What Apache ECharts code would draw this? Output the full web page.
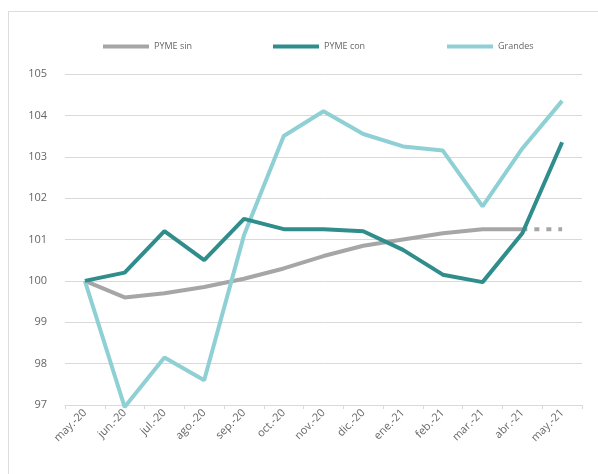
<!DOCTYPE html>
<html><head><meta charset="utf-8">
<script src="https://cdn.jsdelivr.net/npm/echarts@6/dist/echarts.min.js"></script>
<style>html,body{margin:0;padding:0;background:#fff;overflow:hidden}#c{width:598px;height:474px;}#b{position:absolute;left:8px;top:11px;width:600px;height:480px;border:1px solid #dcdcdc;box-sizing:border-box;}</style>
</head><body><div id="b"></div><div id="c" style="position:absolute;left:0;top:0"></div>
<script>
const categories = ['may.-20','jun.-20','jul.-20','ago.-20','sep.-20','oct.-20','nov.-20','dic.-20','ene.-21','feb.-21','mar.-21','abr.-21','may.-21'];
const pymeSin = [100, 99.6, 99.7, 99.85, 100.05, 100.3, 100.6, 100.85, 101.0, 101.15, 101.25, 101.25, null];
const pymeSinProj = [null, null, null, null, null, null, null, null, null, null, null, 101.25, 101.25];
const pymeCon = [100, 100.2, 101.2, 100.5, 101.5, 101.25, 101.25, 101.2, 100.75, 100.15, 99.97, 101.15, 103.35];
const grandes = [100, 96.95, 98.15, 97.6, 101.1, 103.5, 104.1, 103.55, 103.25, 103.15, 101.8, 103.2, 104.35];
const yTicks = {min: 97, max: 105, interval: 1};

const cSin = '#a6a6a6', cCon = '#2f8d8c', cGr = '#8fd0d5';
const chart = echarts.init(document.getElementById('c'));
const legendBase = {top: 37, itemWidth: 46, itemHeight: 4, icon: 'rect', itemGap: 3,
  textStyle: {color: '#666', fontSize: 9, fontFamily: 'Open Sans'}};
chart.setOption({
  animation: false,
  legend: [
    Object.assign({}, legendBase, {left: 98, data: ['PYME sin']}),
    Object.assign({}, legendBase, {left: 268, data: ['PYME con']}),
    Object.assign({}, legendBase, {left: 442, data: ['Grandes']})
  ],
  grid: {left: 65, right: 16, top: 74, bottom: 69},
  xAxis: {type: 'category', data: categories, boundaryGap: true,
    axisLine: {lineStyle: {color: '#d9d9d9'}},
    axisTick: {show: true, lineStyle: {color: '#d9d9d9'}, length: 4},
    axisLabel: {rotate: 45, color: '#666', fontSize: 11, fontFamily: 'Open Sans', margin: 6, interval: 0}},
  yAxis: {type: 'value', min: yTicks.min, max: yTicks.max, interval: yTicks.interval,
    axisLine: {show: false}, axisTick: {show: false},
    splitLine: {lineStyle: {color: '#d9d9d9'}},
    axisLabel: {color: '#666', fontSize: 11, fontFamily: 'Open Sans', margin: 18}},
  series: [
    {name: 'PYME sin', type: 'line', data: pymeSin, symbol: 'none', clip: false,
      lineStyle: {color: cSin, width: 4}, itemStyle: {color: cSin}, z: 2},
    {name: 'PYME sin proj', type: 'line', data: pymeSinProj, symbol: 'none', clip: false,
      lineStyle: {color: cSin, width: 4, type: [5, 7]}, itemStyle: {color: cSin}, z: 1},
    {name: 'PYME con', type: 'line', data: pymeCon, symbol: 'none', clip: false,
      lineStyle: {color: cCon, width: 4}, itemStyle: {color: cCon}, z: 4},
    {name: 'Grandes', type: 'line', data: grandes, symbol: 'none', clip: false,
      lineStyle: {color: cGr, width: 4}, itemStyle: {color: cGr}, z: 3}
  ]
});
</script></body></html>
